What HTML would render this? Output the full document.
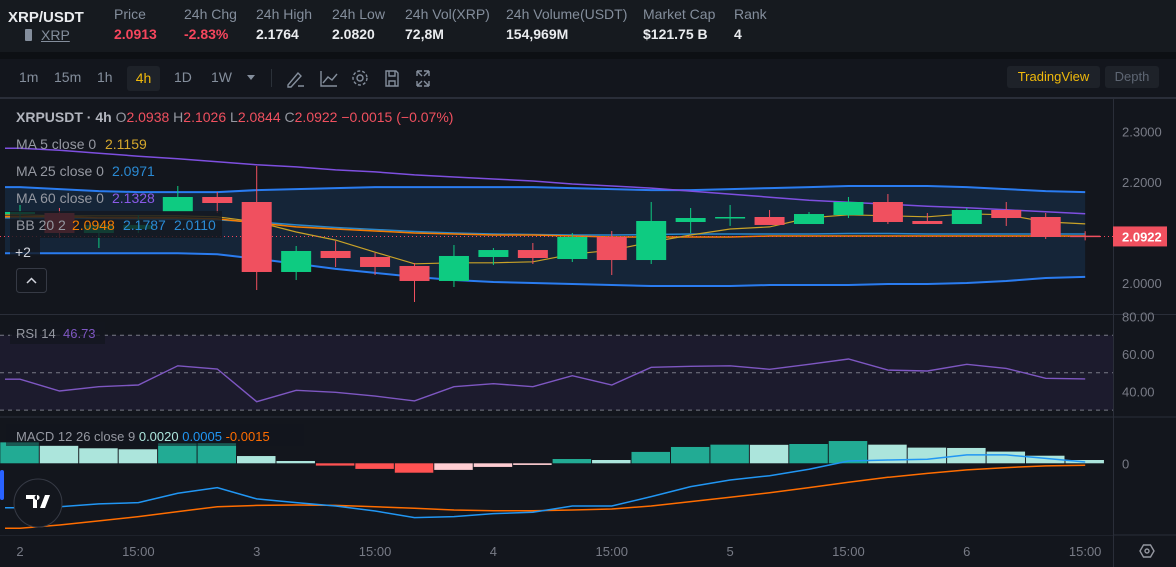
<!DOCTYPE html>
<html><head><meta charset="utf-8">
<style>
*{margin:0;padding:0;box-sizing:border-box}
body{width:1176px;height:567px;background:#13161d;font-family:"Liberation Sans",sans-serif;overflow:hidden;position:relative}
.abs{position:absolute;white-space:nowrap}
.lbl{color:#848e9c;font-size:14px;top:6px}
.val{color:#eaecef;font-size:14px;font-weight:bold;top:26px}
.tb{color:#848e9c;font-size:14px;top:69px}
</style></head>
<body>
<div class="abs" style="left:0;top:0;width:1176px;height:52px;background:#161a1f"></div>
<div class="abs" style="left:0;top:52px;width:1176px;height:7px;background:#0d1014"></div>
<div class="abs" style="left:0;top:59px;width:1176px;height:39px;background:#13161d;border-bottom:1px solid #2a2e39"></div>
<div class="abs" style="left:8px;top:9px;color:#eaecef;font-size:15px;font-weight:bold">XRP/USDT</div>
<div class="abs" style="left:25px;top:27px;color:#848e9c;font-size:14px;text-decoration:underline"><span style="display:inline-block;width:7px;height:12px;background:#848e9c;border-radius:1px;margin-right:9px;vertical-align:-1px"></span>XRP</div>
<div class="abs lbl" style="left:114px">Price</div>
<div class="abs val" style="left:114px;color:#f6465d">2.0913</div>
<div class="abs lbl" style="left:184px">24h Chg</div>
<div class="abs val" style="left:184px;color:#f6465d">-2.83%</div>
<div class="abs lbl" style="left:256px">24h High</div>
<div class="abs val" style="left:256px">2.1764</div>
<div class="abs lbl" style="left:332px">24h Low</div>
<div class="abs val" style="left:332px">2.0820</div>
<div class="abs lbl" style="left:405px">24h Vol(XRP)</div>
<div class="abs val" style="left:405px">72,8M</div>
<div class="abs lbl" style="left:506px">24h Volume(USDT)</div>
<div class="abs val" style="left:506px">154,969M</div>
<div class="abs lbl" style="left:643px">Market Cap</div>
<div class="abs val" style="left:643px">$121.75 B</div>
<div class="abs lbl" style="left:734px">Rank</div>
<div class="abs val" style="left:734px">4</div>

<div class="abs tb" style="left:19px">1m</div>
<div class="abs tb" style="left:54px">15m</div>
<div class="abs tb" style="left:97px">1h</div>
<div class="abs" style="left:127px;top:66px;width:33px;height:25px;background:#1e2229;border-radius:3px;color:#f0b90b;font-size:14px;text-align:center;line-height:24px">4h</div>
<div class="abs tb" style="left:174px">1D</div>
<div class="abs tb" style="left:211px">1W</div>
<div class="abs" style="left:247px;top:75px;width:0;height:0;border-left:4px solid transparent;border-right:4px solid transparent;border-top:5px solid #848e9c"></div>
<div class="abs" style="left:271px;top:69px;width:1px;height:18px;background:#2b3139"></div>
<svg class="abs" style="left:284px;top:66px" width="160" height="24">
<g fill="none" stroke="#848e9c" stroke-width="1.4">
<path d="M4 19 L14 7 L17 10 L7 21 L4 21 Z M14 20 L20 20"/>
<path d="M37 5 L37 20 L53 20 M39 17 L44 11 L48 14 L53 8"/>
<circle cx="76" cy="12" r="3"/><circle cx="76" cy="12" r="7" stroke-dasharray="3 2"/>
<path d="M102 5 L112 5 L114 7 L114 20 L102 20 Z M105 5 L105 10 L111 10 L111 5 M105 20 L105 15 L111 15 L111 20"/>
<path d="M133 5 L138 5 M133 5 L133 10 M133 5 L138 10 M145 5 L140 5 M145 5 L145 10 M145 5 L140 10 M133 20 L138 20 M133 20 L133 15 M133 20 L138 15 M145 20 L140 20 M145 20 L145 15 M145 20 L140 15"/>
</g></svg>
<div class="abs" style="left:1007px;top:66px;width:93px;height:22px;background:#1e2229;border-radius:3px;color:#f0b90b;font-size:13px;text-align:center;line-height:22px">TradingView</div>
<div class="abs" style="left:1105px;top:66px;width:54px;height:22px;background:#1e2229;border-radius:3px;color:#5e6673;font-size:13px;text-align:center;line-height:22px">Depth</div>

<svg id="chart" class="abs" style="left:0;top:0" width="1176" height="567"></svg>

<script>
const opens  = [2.1366,2.1386,2.0990,2.1069,2.1406,2.1703,2.1604,2.0218,2.0634,2.0515,2.0337,2.0040,2.0515,2.0653,2.0475,2.0911,2.0455,2.1208,2.1287,2.1307,2.1168,2.1347,2.1604,2.1228,2.1168,2.1446,2.1307,2.0938];
const highs  = [2.1545,2.1485,2.1188,2.1347,2.1921,2.1802,2.2317,2.0733,2.0832,2.0594,2.0396,2.0752,2.0693,2.0792,2.0990,2.1030,2.1604,2.1485,2.1545,2.1446,2.1406,2.1703,2.1762,2.1386,2.1485,2.1604,2.1386,2.1026];
const lows   = [2.1248,2.0891,2.0693,2.0990,2.1406,2.1386,1.9861,2.0059,2.0317,2.0158,1.9624,1.9921,2.0356,2.0376,2.0416,2.0158,2.0376,2.0990,2.1129,2.1149,2.1168,2.1287,2.1168,2.1168,2.1168,2.1129,2.0871,2.0844];
const closes = [2.1406,2.0990,2.1149,2.1149,2.1703,2.1584,2.0218,2.0634,2.0495,2.0317,2.0040,2.0535,2.0653,2.0495,2.0911,2.0455,2.1228,2.1287,2.1307,2.1149,2.1366,2.1604,2.1208,2.1168,2.1446,2.1287,2.0911,2.0922];
const ma5    = [2.135,2.133,2.133,2.133,2.133,2.131,2.121,2.101,2.085,2.061,2.038,2.040,2.040,2.042,2.057,2.065,2.081,2.095,2.107,2.111,2.129,2.135,2.133,2.131,2.137,2.135,2.121,2.117];
const ma25   = [2.129,2.129,2.128,2.127,2.126,2.125,2.121,2.115,2.110,2.106,2.102,2.099,2.097,2.096,2.095,2.095,2.096,2.097,2.097,2.097,2.097,2.098,2.098,2.097,2.097,2.097,2.097,2.097];
const ma60   = [2.267,2.263,2.257,2.251,2.246,2.240,2.234,2.230,2.224,2.220,2.214,2.210,2.206,2.202,2.196,2.192,2.188,2.182,2.176,2.170,2.164,2.160,2.156,2.152,2.149,2.145,2.141,2.137];
const bbMid  = [2.131,2.131,2.129,2.129,2.129,2.127,2.119,2.111,2.107,2.103,2.099,2.097,2.095,2.095,2.093,2.091,2.091,2.091,2.091,2.093,2.093,2.093,2.093,2.093,2.093,2.093,2.093,2.093];
const bbUpper= [2.190,2.186,2.182,2.180,2.180,2.180,2.184,2.186,2.188,2.190,2.190,2.190,2.190,2.190,2.188,2.186,2.184,2.184,2.186,2.188,2.190,2.192,2.192,2.192,2.190,2.186,2.182,2.180];
const bbLower= [2.059,2.059,2.059,2.059,2.059,2.057,2.048,2.038,2.028,2.020,2.012,2.006,2.002,2.000,1.998,1.996,1.994,1.994,1.994,1.996,1.996,1.996,1.998,1.998,2.000,2.004,2.010,2.012];
const rsi    = [46.5,40.2,42.5,43.4,53.7,52.0,34.5,40.6,39.5,37.5,34.9,42.5,44.1,42.5,48.4,43.4,52.9,53.4,53.7,51.8,54.5,57.3,51.4,50.9,54.5,52.3,47.0,46.7];
const macdHist=[0.0127,0.0107,0.0091,0.0085,0.0121,0.0122,0.0044,0.0014,-0.0014,-0.0034,-0.0057,-0.0040,-0.0022,-0.0010,0.0026,0.0020,0.0069,0.0099,0.0113,0.0112,0.0117,0.0135,0.0113,0.0095,0.0093,0.0071,0.0046,0.0020];
const macdLine=[-0.0269,-0.0263,-0.0246,-0.0238,-0.0182,-0.0147,-0.0216,-0.0238,-0.0259,-0.0289,-0.0329,-0.0323,-0.0305,-0.0297,-0.0259,-0.0259,-0.0202,-0.0141,-0.0101,-0.0075,-0.0036,0.0014,0.0020,0.0024,0.0051,0.0051,0.0030,0.0008];
const signalLine=[-0.0394,-0.0374,-0.0349,-0.0323,-0.0293,-0.0263,-0.0255,-0.0253,-0.0255,-0.0263,-0.0273,-0.0283,-0.0287,-0.0287,-0.0283,-0.0277,-0.0259,-0.0232,-0.0206,-0.0178,-0.0147,-0.0115,-0.0085,-0.0061,-0.0040,-0.0026,-0.0016,-0.0012];
const priceTicks=[2.3,2.2,2.0];
const rsiTicks=[80,60,40];
const rsiLevels=[70,50,30];
const timeLabels=["2","15:00","3","15:00","4","15:00","5","15:00","6","15:00"];
const lastPrice=2.0922;

const svg=document.getElementById('chart');
const NS='http://www.w3.org/2000/svg';
function mk(tag,attrs,parent){const e=document.createElementNS(NS,tag);for(const k in attrs)e.setAttribute(k,attrs[k]);(parent||svg).appendChild(e);return e;}
const X=i=>20+i*39.45;
const Y=p=>182+(2.2-p)*505;
const YR=v=>354+(60-v)*1.87;
const YM=v=>463.3-v*1650;
const AX=1113;

// pane borders & axis separator
let e;
e=mk('line',{x1:0,y1:98.5,x2:1176,y2:98.5,stroke:'#2a2e39'});


[314.5,417,535].forEach(y=>{const l=mk('line',{x1:0,y1:y,x2:1176,y2:y,stroke:'#2a2e39'});

});
e=mk('line',{x1:AX+0.5,y1:98,x2:AX+0.5,y2:567,stroke:'#2a2e39'});



// price ticks
priceTicks.forEach(p=>{const t=mk('text',{x:1122,y:Y(p)+5,fill:'#787b86','font-size':13});t.textContent=p.toFixed(4);

});

// BB fill
function path(arr,f,x0){let d='';arr.forEach((v,i)=>{const x=(i===0&&x0!==undefined)?x0:X(i);d+=(i?'L':'M')+x.toFixed(1)+' '+f(v).toFixed(1);});return d;}
let fd='M5 '+Y(bbUpper[0]);bbUpper.forEach((v,i)=>fd+=' L'+X(i)+' '+Y(v));
for(let i=bbLower.length-1;i>=0;i--)fd+=' L'+X(i)+' '+Y(bbLower[i]);fd+=' L5 '+Y(bbLower[0])+'Z';
e=mk('path',{d:fd,fill:'#16283d','fill-opacity':0.85});



function line(arr,f,color,w,name){const d='M5 '+f(arr[0]).toFixed(1)+' '+path(arr,f).replace('M','L');const p=mk('path',{d:d,fill:'none',stroke:color,'stroke-width':w});return p;}
e=line(bbUpper,Y,'#2a7cf0',2);


e=line(bbLower,Y,'#2a7cf0',2);


e=line(ma60,Y,'#7e4fe0',1.5);


e=line(ma25,Y,'#2a86c9',1.5);


e=line(bbMid,Y,'#f57c00',1.5);


e=line(ma5,Y,'#c9a227',1.2);



// last price line
e=mk('line',{x1:0,y1:Y(lastPrice),x2:AX,y2:Y(lastPrice),stroke:'#f6465d','stroke-dasharray':'1 3'});



// candles
opens.forEach((o,i)=>{const c=closes[i];const up=c>=o;const col=up?'#0ecb81':'#f0505f';
const g=mk('g',{});


mk('line',{x1:X(i),x2:X(i),y1:Y(highs[i]),y2:Y(lows[i]),stroke:col,'stroke-width':1},g);
const top=Y(Math.max(o,c)),bot=Y(Math.min(o,c));
mk('rect',{x:X(i)-15,y:top,width:30,height:Math.max(1.5,bot-top),fill:col},g);});

// last price label
e=mk('rect',{x:1113,y:Y(lastPrice)-10,width:54,height:20,fill:'#f0505f'});


e=mk('text',{x:1122,y:Y(lastPrice)+5,fill:'#fff','font-size':13,'font-weight':'bold'});e.textContent=lastPrice.toFixed(4);



// legend
function txt(x,y,s,col,size,name,weight){const t=mk('text',{x:x,y:y,fill:col,'font-size':size||14});if(weight)t.setAttribute('font-weight',weight);t.textContent=s;

return t;}
e=mk('rect',{x:10,y:211,width:212,height:27,fill:'#14181f','fill-opacity':0.8});


e=mk('rect',{x:10,y:238,width:30,height:18,fill:'#14181f','fill-opacity':0.8});


const t1=mk('text',{x:16,y:122,'font-size':15});


t1.innerHTML='<tspan fill="#b2b5be" font-weight="bold">XRPUSDT · 4h</tspan><tspan fill="#9598a1"> O</tspan><tspan fill="#f0505f">2.0938</tspan><tspan fill="#9598a1"> H</tspan><tspan fill="#f0505f">2.1026</tspan><tspan fill="#9598a1"> L</tspan><tspan fill="#f0505f">2.0844</tspan><tspan fill="#9598a1"> C</tspan><tspan fill="#f0505f">2.0922 −0.0015 (−0.07%)</tspan>';
t1.setAttribute('font-size','14');
txt(16,149,'MA 5 close 0','#9598a1',14,'ma5-legend-label');txt(105,149,'2.1159','#d4a72c',14,'ma5-legend-value');
txt(16,176,'MA 25 close 0','#9598a1',14,'ma25-legend-label');txt(112,176,'2.0971','#2a8ad4',14,'ma25-legend-value');
txt(16,203,'MA 60 close 0','#9598a1',14,'ma60-legend-label');txt(112,203,'2.1328','#8a5ae8',14,'ma60-legend-value');
txt(16,230,'BB 20 2','#9598a1',14,'bb-legend-label');txt(72,230,'2.0948','#f57c00',14,'bb-legend-mid');txt(123,230,'2.1787','#2a8ad4',14,'bb-legend-upper');txt(174,230,'2.0110','#2a8ad4',14,'bb-legend-lower');
txt(15,257,'+2','#d1d4dc',14,'legend-more-count');
e=mk('rect',{x:16.5,y:268.5,width:30,height:24,rx:3,fill:'none',stroke:'#363a45'});


mk('path',{d:'M27 283 L31.5 278.5 L36 283',fill:'none',stroke:'#d1d4dc','stroke-width':1.5});

// RSI pane
e=mk('rect',{x:0,y:YR(70),width:AX,height:YR(30)-YR(70),fill:'#1c1b2d'});


rsiLevels.forEach(v=>{const l=mk('line',{x1:0,x2:AX,y1:YR(v),y2:YR(v),stroke:'#787b86','stroke-dasharray':'4 4'});

});
e=line(rsi,YR,'#7e57c2',1.4);


rsiTicks.forEach(v=>{const t=mk('text',{x:1122,y:YR(v)+5,fill:'#787b86','font-size':13});t.textContent=v.toFixed(2);

});
e=mk('rect',{x:10,y:322,width:95,height:22,fill:'#14171f','fill-opacity':0.8});
txt(16,338,'RSI 14','#9598a1',13,'rsi-legend-label');txt(63,338,'46.73','#7e57c2',13,'rsi-legend-value');

// MACD pane
e=mk('rect',{x:0,y:418,width:AX,height:117,fill:'#13161d'});
macdHist.forEach((h,i)=>{const prev=i?macdHist[i-1]:0;let col;
if(h>=0)col=h>prev?'#22ab94':'#ace5dc';else col=h<prev?'#ff5252':'#ffcdd2';
const y0=YM(0),y1=YM(h);
const r=mk('rect',{x:X(i)-19.7,y:Math.min(y0,y1),width:38.5,height:Math.abs(y1-y0),fill:col});

});
e=line(signalLine,YM,'#ff6d00',1.5);


e=line(macdLine,YM,'#2196f3',1.5);


e=mk('text',{x:1122,y:YM(0)+5,fill:'#787b86','font-size':13});e.textContent='0';


e=mk('rect',{x:6,y:424,width:298,height:22,fill:'#13161d','fill-opacity':0.55});
const ml=mk('text',{x:16,y:441,'font-size':13});


ml.innerHTML='<tspan fill="#9598a1">MACD 12 26 close 9 </tspan><tspan fill="#ace5dc">0.0020 </tspan><tspan fill="#2196f3">0.0005 </tspan><tspan fill="#ff6d00">-0.0015</tspan>';
// TV logo
e=mk('circle',{cx:38,cy:503,r:24,fill:'#13161d',stroke:'#363a45','stroke-width':1});


mk('path',{d:'M26 495 L37 495 L37 508 L33 508 L33 499 L26 499 Z M40 508 L45 495 L50 495 L45 508 Z M37 495 a2.5 2.5 0 1 0 0.1 0',fill:'#fff'});
e=mk('rect',{x:0,y:470,width:4,height:30,rx:2,fill:'#2962ff'});

// time axis
timeLabels.forEach((s,i)=>{const t=mk('text',{x:X(i*3),y:556,fill:'#787b86','font-size':13,'text-anchor':'middle'});t.textContent=s;

});
e=mk('path',{d:'M1140 551 L1143.5 545 L1150.5 545 L1154 551 L1150.5 557 L1143.5 557 Z',fill:'none',stroke:'#9598a1','stroke-width':1.4});


mk('circle',{cx:1147,cy:551,r:2,fill:'none',stroke:'#9598a1','stroke-width':1.4});
</script>
</body></html>
